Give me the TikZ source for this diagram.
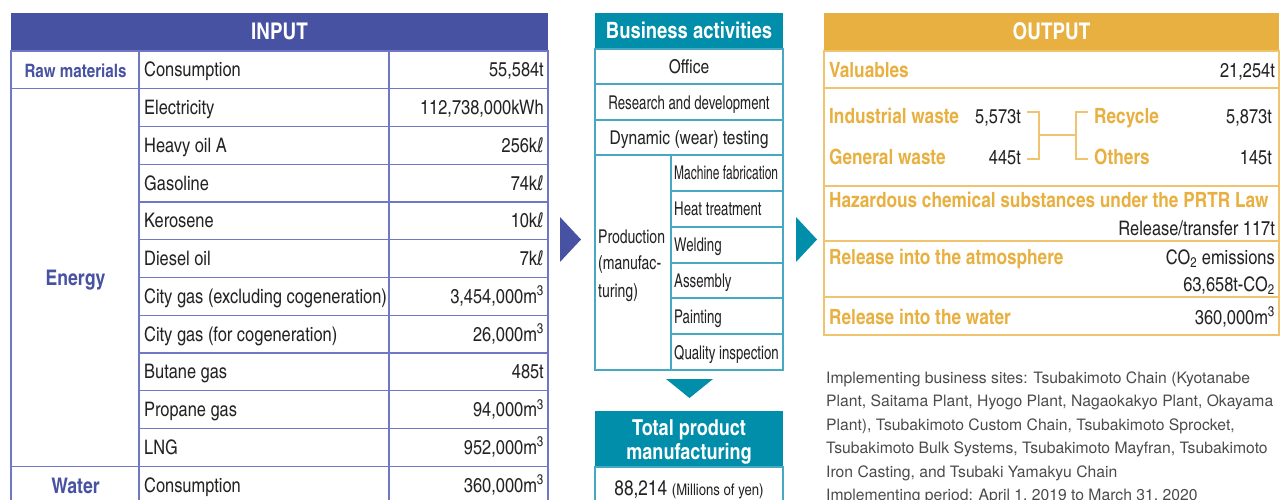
\documentclass[tikz,border=0pt]{standalone}
\usepackage{fontspec}
\usepackage{graphicx}
\setmainfont{texgyreheroscn}[Extension=.otf, UprightFont=*-regular, BoldFont=*-bold]
\newfontfamily\notefont{texgyreheros}[Extension=.otf, UprightFont=*-regular, BoldFont=*-bold]
\newfontfamily\litrefont{DejaVu Sans}

\definecolor{inblue}{RGB}{72,82,162}
\definecolor{inrulec}{RGB}{112,120,198}
\definecolor{bizteal}{RGB}{0,142,170}
\definecolor{bizrulec}{RGB}{70,168,194}
\definecolor{outgold}{RGB}{232,176,64}
\definecolor{outrulec}{RGB}{240,196,110}
\definecolor{ink}{RGB}{35,35,35}
\definecolor{notegray}{RGB}{75,75,75}

\newcommand{\cubm}{m\textsuperscript{3}}
\newcommand{\kilol}{k\scalebox{0.8}[1]{\litrefont ℓ}}
\newcommand{\narrow}[2]{\scalebox{#1}[1]{#2}}

\tikzset{
  inrule/.style={draw=inrulec, line width=1.1pt},
  bizrule/.style={draw=bizrulec, line width=1.1pt},
  outrule/.style={draw=outrulec, line width=1.1pt},
  bracket/.style={draw=outrulec, line width=1.1pt},
  cell/.style={inner sep=0pt, text height=14pt, text depth=0pt, text=ink, font=\fontsize{20}{24}\selectfont},
  item/.style={cell, anchor=west},
  amount/.style={cell, anchor=east},
  cat/.style={cell, text=inblue, font=\bfseries\fontsize{21.5}{25}\selectfont},
  head/.style={inner sep=0pt, text height=15pt, text depth=0pt, text=white, font=\bfseries\fontsize{23}{27}\selectfont},
  bizcell/.style={cell, font=\fontsize{19}{23}\selectfont},
  subcell/.style={cell, anchor=west, font=\fontsize{19}{23}\selectfont},
  outlbl/.style={cell, anchor=west, text=outgold, font=\bfseries\fontsize{21}{25}\selectfont},
  outamt/.style={cell, anchor=east},
  note/.style={inner sep=0pt, anchor=base west, text=notegray, font=\notefont\fontsize{15.7}{19}\selectfont},
}

\begin{document}
\begin{tikzpicture}[x=1pt, y=-1pt]
    \useasboundingbox (0,0) rectangle (1285,499);
    \clip (0,0) rectangle (1285,499);

    % INPUT table
    \fill[inblue] (11,13) rectangle (548,51);
    \node[head] (inhead) at (279.5,32) {INPUT};
    \draw[inrule] (11,51) rectangle (548,510);
    \foreach \k in {1,...,11} \draw[inrule] (139,{51+37.75*\k}) -- (548,{51+37.75*\k});
    \draw[inrule] (11,88.75) -- (139,88.75);
    \draw[inrule] (11,466.25) -- (139,466.25);
    \draw[inrule] (139,51) -- (139,510);
    \draw[inrule] (389,51) -- (389,510);

    \node[cat, font=\bfseries\fontsize{18.5}{22}\selectfont] (raw) at (75.5,70) {Raw materials};
    \node[cat] (energy) at (75.5,278) {Energy};
    \node[cat] (water) at (75.5,486) {Water};

    \foreach \itm/\amt [count=\k from 0] in {
        Consumption/{55,584t}, Electricity/{112,738,000kWh}, Heavy oil A/{256\kilol},
        Gasoline/{74\kilol}, Kerosene/{10\kilol}, Diesel oil/{7\kilol},
        City gas (excluding cogeneration)/{3,454,000\cubm},
        City gas (for cogeneration)/{26,000\cubm}, Butane gas/{485t},
        Propane gas/{94,000\cubm}, LNG/{952,000\cubm}, Consumption/{360,000\cubm}} {
        \node[item] (item\k) at (144,{51+37.75*(\k+0.5)}) {\itm};
        \node[amount] (amt\k) at (544,{51+37.75*(\k+0.5)}) {\amt};
    }

    % Arrows
    \fill[inblue] (560,217) -- (581,239.5) -- (560,262) -- cycle;
    \fill[bizteal] (796,217) -- (817,239.5) -- (796,262) -- cycle;
    \fill[bizteal] (666,379) -- (713,379) -- (689.5,398) -- cycle;

    % Business activities
    \fill[bizteal] (595,13) rectangle (783,49);
    \node[head, font=\bfseries\fontsize{22.5}{26}\selectfont] (bizhead) at (689,31) {Business activities};
    \draw[bizrule] (595,49) rectangle (783,370);
    \foreach \y in {84,120,155} \draw[bizrule] (595,\y) -- (783,\y);
    \draw[bizrule] (671,155) -- (671,370);
    \foreach \y in {191,227,263,298,334} \draw[bizrule] (671,\y) -- (783,\y);
    \node[bizcell] (office) at (689,66.5) {Office};
    \node[bizcell] (rnd) at (689,102) {\narrow{0.85}{Research and development}};
    \node[bizcell] (wear) at (689,137.5) {Dynamic (wear) testing};
    \node[cell, anchor=west, font=\fontsize{19}{23}\selectfont] (prod1) at (598,236) {\narrow{0.9}{Production}};
    \node[cell, anchor=west, font=\fontsize{19}{23}\selectfont] (prod2) at (598,262) {\narrow{0.9}{(manufac-}};
    \node[cell, anchor=west, font=\fontsize{19}{23}\selectfont] (prod3) at (598,290) {\narrow{0.9}{turing)}};
    \foreach \stp/\sq [count=\i from 0] in {Machine fabrication/0.77, Heat treatment/0.85, Welding/0.85,
        Assembly/0.85, Painting/0.85, Quality inspection/0.85}
        \node[subcell] (stage\i) at (674,{155+35.83*(\i+0.5)}) {\narrow{\sq}{\stp}};

    % Total product manufacturing
    \fill[bizteal] (595,411) rectangle (783,467);
    \draw[bizrule] (595,467) rectangle (783,510);
    \node[head, font=\bfseries\fontsize{22}{26}\selectfont] (tot1) at (689,428) {Total product};
    \node[head, font=\bfseries\fontsize{22}{26}\selectfont] (tot2) at (689,452) {manufacturing};
    \node[cell, font=\fontsize{21}{25}\selectfont] (sales) at (689,488) {88,214 {\fontsize{16}{19}\selectfont(Millions of yen)}};

    % OUTPUT table
    \fill[outgold] (824,13) rectangle (1279,51);
    \node[head] (outhead) at (1051.5,32) {OUTPUT};
    \draw[outrule] (824,51) rectangle (1279,335);
    \foreach \y in {88,186,241,297} \draw[outrule] (824,\y) -- (1279,\y);

    \node[outlbl] (valu) at (829,70) {Valuables};
    \node[outamt] (valuv) at (1275,70) {21,254t};
    \node[outlbl] (indw) at (829,116) {Industrial waste};
    \node[outamt] (indv) at (1021,116) {5,573t};
    \node[outlbl] (genw) at (829,157) {General waste};
    \node[outamt] (genv) at (1021,157) {445t};
    \node[outlbl] (recw) at (1094,116) {Recycle};
    \node[outamt] (recv) at (1272,116) {5,873t};
    \node[outlbl] (othw) at (1094,157) {Others};
    \node[outamt] (othv) at (1272,157) {145t};
    \node[outlbl] (prtr) at (829,200) {Hazardous chemical substances under the PRTR Law};
    \node[outamt] (prtrv) at (1275,228) {Release/transfer 117t};
    \node[outlbl] (atmo) at (829,257) {Release into the atmosphere};
    \node[outamt] (atmov) at (1275,257) {CO\textsubscript{2} emissions};
    \node[outamt] (atmot) at (1275,284) {63,658t-CO\textsubscript{2}};
    \node[outlbl] (wout) at (829,317) {Release into the water};
    \node[outamt] (woutv) at (1275,317) {360,000\cubm};

    % Waste brackets
    \coordinate (wl) at (1039,135);
    \coordinate (wr) at (1076,135);
    \draw[bracket] ([xshift=6pt,yshift=4pt]indv.east) -| (wl) |- ([xshift=6pt,yshift=-2pt]genv.east);
    \draw[bracket] (wl) -- (wr);
    \draw[bracket] ([xshift=-6pt,yshift=4pt]recw.west) -| (wr) |- ([xshift=-6pt,yshift=-2pt]othw.west);

    % Note
    \foreach \ln [count=\i from 0] in {
        {Implementing business sites: Tsubakimoto Chain (Kyotanabe},
        {Plant, Saitama Plant, Hyogo Plant, Nagaokakyo Plant, Okayama},
        {Plant), Tsubakimoto Custom Chain, Tsubakimoto Sprocket,},
        {Tsubakimoto Bulk Systems, Tsubakimoto Mayfran, Tsubakimoto},
        {Iron Casting, and Tsubaki Yamakyu Chain},
        {Implementing period: April 1, 2019 to March 31, 2020}}
        \node[note] (note\i) at (826,{383+23.5*\i}) {\ln};
\end{tikzpicture}
\end{document}
